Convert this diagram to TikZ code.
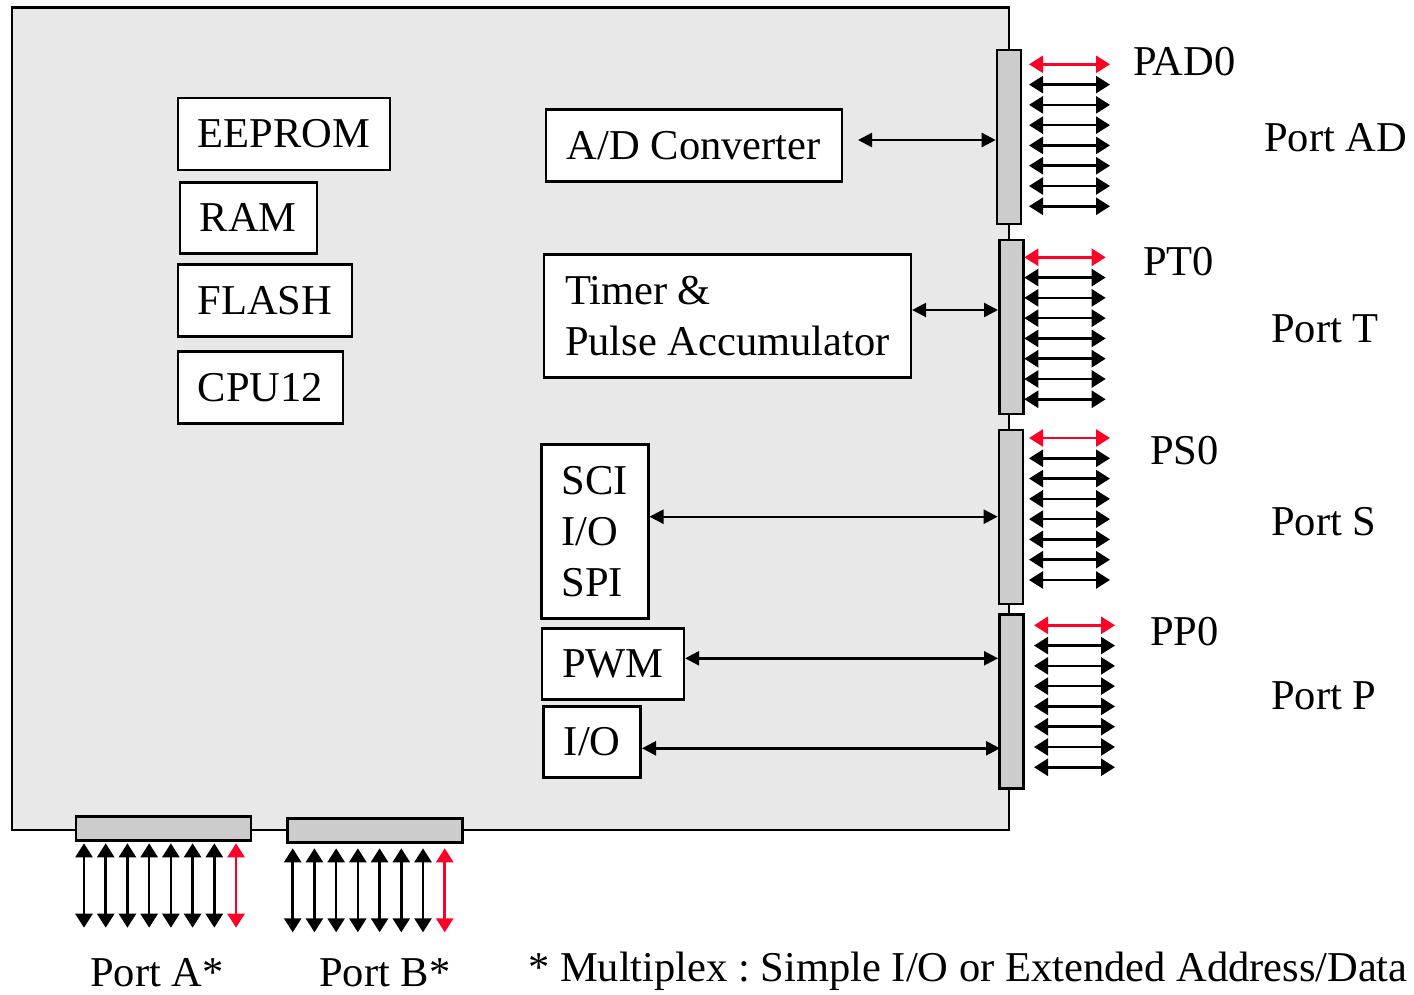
\documentclass[tikz,border=0pt]{standalone}
\usepackage{fontspec}
\setmainfont{Liberation Serif}
\usetikzlibrary{arrows.meta,calc}
\definecolor{boardgray}{HTML}{E8E8E8}
\definecolor{bargray}{HTML}{CCCCCC}
\definecolor{sigred}{RGB}{255,0,38}
\frenchspacing

\begin{document}
\begin{tikzpicture}[x=1pt,y=-1pt,
  txt/.style={font=\fontsize{42.5}{51}\selectfont},
  box/.style={txt,draw,line width=2.6pt,fill=white,inner sep=0pt,align=left},
  bar/.style={draw,line width=2.6pt,fill=bargray,inner sep=0pt},
  lbl/.style={txt,anchor=base west,inner sep=0pt},
  pin/.style={line width=2.6pt,{Triangle[length=14pt,width=17pt]}-{Triangle[length=14pt,width=17pt]}},
  link/.style={line width=2.4pt,{Triangle[length=14pt,width=14pt]}-{Triangle[length=14pt,width=14pt]}},
]
\useasboundingbox (0,0) rectangle (1414,994);

% chip outline
\draw[line width=2.7pt,fill=boardgray] (12,7.2) rectangle (1009,830);

% memory and CPU blocks
\node[box,minimum width=212pt,minimum height=72pt] (eeprom) at (283.8,134) {EEPROM};
\node[box,minimum width=137pt,minimum height=71pt] (ram)    at (248.3,217.8) {RAM};
\node[box,minimum width=174pt,minimum height=72pt] (flash)  at (264.8,300.5) {FLASH};
\node[box,minimum width=165pt,minimum height=72pt] (cpu)    at (260.3,387.5) {CPU12};

% peripheral blocks
\node[box,minimum width=296pt,minimum height=72pt]  (adc)   at (693.8,145.5) {A/D Converter};
\node[box,minimum width=367pt,minimum height=123pt] (timer) at (727.3,315.8) {Timer \&\\Pulse Accumulator};
\node[box,minimum width=107pt,minimum height=174pt] (sci)   at (594.7,531.2) {SCI\\I/O\\SPI};
\node[box,minimum width=142pt,minimum height=71pt]  (pwm)   at (612.8,663.8) {PWM};
\node[box,minimum width=97pt,minimum height=71pt]   (gpio)  at (592.2,742) {I/O};

% port connectors
\node[bar,minimum width=24pt,minimum height=174pt] (pad) at (1009,137) {};
\node[bar,minimum width=24pt,minimum height=174pt] (pt)  at (1011.3,327) {};
\node[bar,minimum width=24pt,minimum height=174pt] (ps)  at (1011,516.8) {};
\node[bar,minimum width=24pt,minimum height=174pt] (pp)  at (1011.3,701.3) {};
\node[bar,minimum width=175pt,minimum height=24pt] (pa)  at (163.3,828.3) {};
\node[bar,minimum width=175pt,minimum height=24pt] (pb)  at (374.7,830.3) {};

% internal buses
\coordinate (adcbus) at (858,140);
\draw[link] (adcbus) -- (pad.west |- adcbus);
\draw[link] (timer.east |- 0,310) -- (pt.west |- 0,310);
\draw[link] (sci.east |- 0,516.7) -- (ps.west |- 0,516.7);
\draw[link] (pwm.east |- 0,658.3) -- (pp.west |- 0,658.3);
\draw[link] (gpio.east |- 0,748.3) -- ($(pp.west |- 0,748.3)+(2,0)$);

% external pins, bit 0 in red
\foreach \port/\xa/\xb/\ya in {pad/1029/1110/64.3, pt/1024.3/1105.7/257.3, ps/1029/1110/438, pp/1034/1115/625.3}{
  \foreach \i in {0,...,7}{
    \pgfmathsetmacro\yy{\ya+20.28*\i}
    \coordinate (\port-l\i) at (\xa,\yy);
    \coordinate (\port-r\i) at (\xb,\yy);
    \ifnum\i=0
      \draw[pin,sigred] (\port-l\i) -- (\port-r\i);
    \else
      \draw[pin] (\port-l\i) -- (\port-r\i);
    \fi
  }
}
\foreach \port/\xa/\ya/\yb in {pa/84/843.3/927.7, pb/292.7/848.3/932.3}{
  \foreach \i in {0,...,7}{
    \pgfmathsetmacro\xx{\xa+21.72*\i}
    \coordinate (\port-t\i) at (\xx,\ya);
    \coordinate (\port-b\i) at (\xx,\yb);
    \ifnum\i=7
      \draw[pin,sigred] (\port-t\i) -- (\port-b\i);
    \else
      \draw[pin] (\port-t\i) -- (\port-b\i);
    \fi
  }
}

% labels
\node[lbl] (lpad0) at (1133,75)  {PAD0};
\node[lbl] (lpad)  at (1264,151) {Port AD};
\node[lbl] (lpt0)  at (1143,275) {PT0};
\node[lbl] (lpt)   at (1271,342) {Port T};
\node[lbl] (lps0)  at (1150,464) {PS0};
\node[lbl] (lps)   at (1271,535) {Port S};
\node[lbl] (lpp0)  at (1150,645) {PP0};
\node[lbl] (lpp)   at (1271,709) {Port P};
\node[lbl] (lpa)   at (90,986)   {Port A*};
\node[lbl] (lpb)   at (319,986)  {Port B*};
\node[lbl] (note)  at (528,981)  {* Multiplex : Simple I/O or Extended Address/Data};
\end{tikzpicture}
\end{document}
